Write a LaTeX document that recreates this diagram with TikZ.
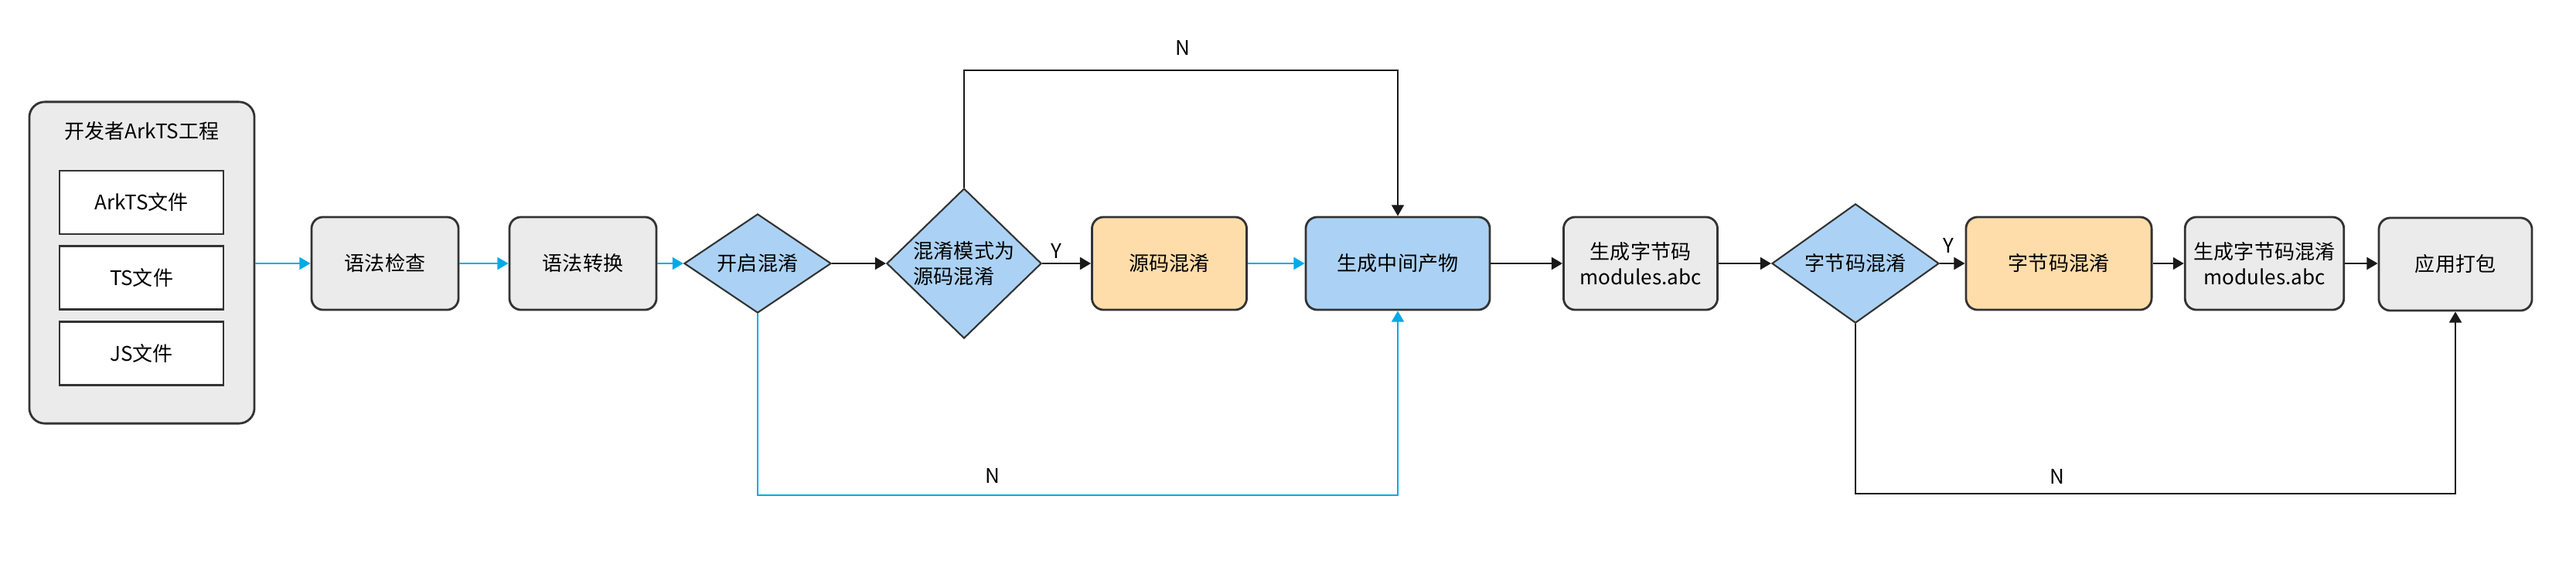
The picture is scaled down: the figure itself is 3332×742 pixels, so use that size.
\documentclass[tikz,border=0pt]{standalone}
\usepackage{fontspec}
\setmainfont{Noto Sans CJK SC}
\usetikzlibrary{shapes.geometric,arrows.meta}
\definecolor{boxgray}{HTML}{EBEBEB}
\definecolor{boxblue}{HTML}{ABD2F4}
\definecolor{boxorange}{HTML}{FFDDAA}
\definecolor{lineblue}{HTML}{00AAE8}
\definecolor{edge}{HTML}{333333}
\begin{document}
\begin{tikzpicture}[x=0.01cm,y=-0.01cm,
  every node/.style={font=\fontsize{7.4pt}{9.5pt}\selectfont},
  proc/.style={draw=edge,line width=0.8pt,rounded corners=0.15cm,fill=boxgray,minimum width=1.9cm,minimum height=1.2cm,align=center},
  dec/.style={draw=edge,line width=0.6pt,diamond,fill=boxblue,inner sep=0,align=left},
  file/.style={draw=edge,line width=0.8pt,fill=white,minimum width=2.12cm,minimum height=0.82cm},
  flow/.style={-{Triangle[length=4pt,width=4.5pt]},line width=0.7pt,black!90},
  blueflow/.style={flow,lineblue,line width=0.6pt}]
\useasboundingbox (0,0) rectangle (3332,742);

\node (proj) [proc,minimum width=2.91cm,minimum height=4.16cm,rounded corners=0.2cm] at (183.5,340) {};
\node (title) at (183.5,170) {开发者ArkTS工程};
\node (arkts) [file] at (183,262) {ArkTS文件};
\node (ts) [file] at (183,359.5) {TS文件};
\node (js) [file] at (183,457.5) {JS文件};

\node (check) [proc] at (498,341) {语法检查};
\node (convert) [proc] at (754,341) {语法转换};
\node (enable) [dec,minimum width=1.9cm,minimum height=1.18cm] at (980,341) {开启混淆};
\node (mode) [dec,minimum width=2cm,minimum height=1.94cm] at (1247,341) {混淆模式为\\源码混淆};
\node (src) [proc,fill=boxorange,minimum width=2cm] at (1512.5,341) {源码混淆};
\node (mid) [proc,fill=boxblue,minimum width=2.38cm] at (1808,341) {生成中间产物};
\node (bc) [proc,minimum width=1.99cm] at (2122,341) {生成字节码\\modules.abc};
\node (bcdia) [dec,minimum width=2.16cm,minimum height=1.38cm] at (2400,341) {字节码混淆};
\node (bcobf) [proc,fill=boxorange,minimum width=2.4cm] at (2663,341) {字节码混淆};
\node (bcout) [proc,minimum width=2cm] at (2929,341) {生成字节码混淆\\modules.abc};
\node (pack) [proc,minimum width=1.98cm] at (3176,342) {应用打包};

\draw [blueflow] (proj.east |- check) -- (check);
\draw [blueflow] (check) -- (convert);
\draw [blueflow] (convert) -- (enable);
\draw [flow] (enable) -- (mode);
\draw [flow] (mode) -- (src); \node (y1) at (1366,325) {Y};
\draw [blueflow] (src) -- (mid);
\coordinate (ntop) at (1530,91); \node (n1) at (1530,62) {N};
\draw [flow,line width=0.5pt] (mode.north) |- (ntop) -| (mid.north);
\coordinate (nbot) at (1284,641); \node (n2) at (1284,616) {N};
\draw [blueflow] (enable.south) |- (nbot) -| (mid.south);

\draw [flow] (mid) -- (bc);
\draw [flow] (bc) -- (bcdia);
\draw [flow] (bcdia) -- (bcobf); \node (y2) at (2520,318) {Y};
\draw [flow] (bcobf) -- (bcout);
\draw [flow] (bcout) -- (pack.west |- bcout);
\coordinate (nright) at (2661,639); \node (n3) at (2661,617) {N};
\draw [flow] (bcdia.south) |- (nright) -| (pack.south);
\end{tikzpicture}
\end{document}
